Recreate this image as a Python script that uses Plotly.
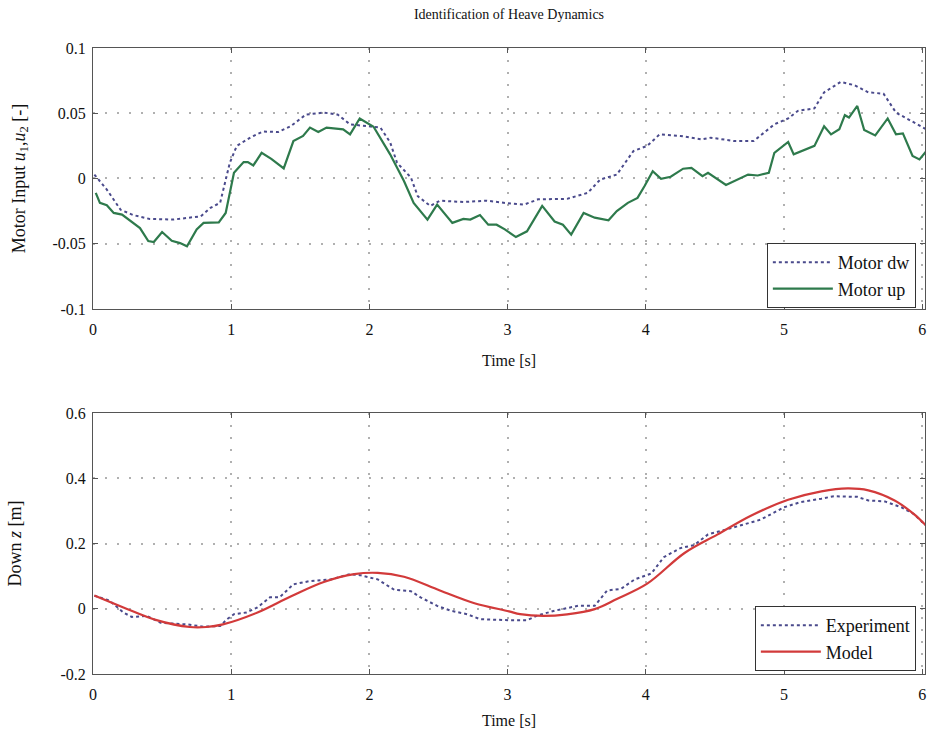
import plotly.graph_objects as go

# ---- data ----
t_dw = [0.01,0.1,0.2,0.29,0.41,0.58,0.78,0.85,0.92,0.99,1.04,1.14,1.23,1.34,1.43,1.54,1.67,1.77,1.86,1.98,2.08,2.15,2.2,2.3,2.35,2.44,2.51,2.68,2.85,3.0,3.12,3.22,3.43,3.58,3.67,3.79,3.91,4.01,4.1,4.25,4.4,4.47,4.64,4.78,4.93,5.03,5.1,5.22,5.29,5.41,5.51,5.61,5.72,5.81,5.92,6.03]
u_dw = [0.003,-0.0085,-0.024,-0.028,-0.031,-0.0315,-0.029,-0.0225,-0.0186,0.012,0.025,0.0315,0.036,0.0356,0.040,0.049,0.0505,0.049,0.0415,0.040,0.039,0.0277,0.012,0.0008,-0.0136,-0.021,-0.017,-0.018,-0.017,-0.019,-0.020,-0.016,-0.0156,-0.011,-0.0008,0.003,0.021,0.025,0.0338,0.0326,0.030,0.0313,0.0287,0.0287,0.0415,0.046,0.0518,0.0538,0.066,0.074,0.0715,0.066,0.065,0.0505,0.044,0.0377]

t_up = [0.02,0.05,0.1,0.15,0.21,0.34,0.40,0.44,0.50,0.57,0.63,0.68,0.75,0.80,0.91,0.96,1.02,1.09,1.12,1.16,1.22,1.29,1.38,1.45,1.52,1.57,1.63,1.69,1.81,1.86,1.93,1.98,2.03,2.15,2.25,2.32,2.42,2.49,2.60,2.68,2.73,2.80,2.86,2.92,2.98,3.06,3.14,3.25,3.34,3.40,3.46,3.55,3.63,3.73,3.79,3.87,3.94,3.99,4.05,4.11,4.18,4.27,4.33,4.41,4.45,4.58,4.66,4.74,4.81,4.89,4.93,5.03,5.07,5.22,5.29,5.34,5.40,5.44,5.47,5.53,5.58,5.66,5.75,5.81,5.86,5.93,5.98,6.03]
u_up = [-0.011,-0.0187,-0.0205,-0.0264,-0.0277,-0.038,-0.048,-0.0487,-0.041,-0.0477,-0.0495,-0.052,-0.039,-0.034,-0.0336,-0.0264,0.0044,0.0126,0.0126,0.010,0.0197,0.015,0.0077,0.0287,0.0326,0.039,0.0356,0.039,0.0377,0.0338,0.046,0.0428,0.0397,0.0185,-0.002,-0.0187,-0.0315,-0.020,-0.034,-0.031,-0.0315,-0.028,-0.0354,-0.0354,-0.039,-0.0449,-0.0405,-0.021,-0.033,-0.0354,-0.043,-0.0264,-0.030,-0.032,-0.025,-0.0187,-0.0149,-0.006,0.0056,-0.0003,0.0013,0.0075,0.0082,0.0018,0.0044,-0.005,-0.0008,0.003,0.0023,0.0044,0.0197,0.028,0.0185,0.025,0.040,0.0338,0.0377,0.0485,0.0467,0.0556,0.0372,0.033,0.046,0.0338,0.0346,0.0172,0.0146,0.021]

t_exp = [0.01,0.12,0.22,0.28,0.39,0.49,0.68,0.80,0.92,0.97,1.02,1.11,1.19,1.28,1.35,1.45,1.57,1.72,1.86,1.93,2.06,2.18,2.30,2.37,2.49,2.59,2.71,2.80,3.01,3.14,3.22,3.34,3.51,3.63,3.72,3.82,3.92,4.04,4.13,4.25,4.35,4.45,4.59,4.69,4.83,5.0,5.12,5.27,5.36,5.53,5.61,5.73,5.85,5.94,6.03]
z_exp = [0.04,0.025,-0.0115,-0.025,-0.022,-0.043,-0.048,-0.055,-0.053,-0.032,-0.0167,-0.0115,0.004,0.035,0.035,0.075,0.085,0.09,0.106,0.103,0.09,0.058,0.054,0.035,0.009,-0.006,-0.017,-0.032,-0.035,-0.035,-0.02,-0.006,0.009,0.009,0.056,0.061,0.09,0.108,0.158,0.186,0.195,0.228,0.244,0.256,0.273,0.311,0.327,0.3375,0.345,0.343,0.332,0.329,0.311,0.29,0.254]

t_mod = [0.01,0.22,0.46,0.70,0.82,0.94,1.19,1.43,1.67,1.89,2.06,2.25,2.51,2.76,3.01,3.09,3.26,3.43,3.63,3.79,4.01,4.28,4.52,4.76,5.03,5.27,5.46,5.61,5.80,5.94,6.03]
z_mod = [0.0406,0.004,-0.035,-0.056,-0.056,-0.048,-0.0115,0.0375,0.082,0.106,0.110,0.098,0.056,0.017,-0.008,-0.0167,-0.022,-0.017,-0.001,0.030,0.077,0.171,0.228,0.285,0.334,0.360,0.369,0.363,0.332,0.29,0.254]

top_yticks = [-0.1, -0.05, 0, 0.05, 0.1]
top_yticktext = ["-0.1", "-0.05", "0", "0.05", "0.1"]
bot_yticks = [-0.2, 0, 0.2, 0.4, 0.6]
bot_yticktext = ["-0.2", "0", "0.2", "0.4", "0.6"]
xticks = [0, 1, 2, 3, 4, 5, 6]

FONT = "Liberation Serif"
BLUE_DOT = "#4a4a8c"
GREEN = "#2e7a4c"
RED = "#d23a3a"

fig = go.Figure()
fig.add_trace(go.Scatter(x=t_dw, y=u_dw, mode="lines", name="Motor dw",
                         line=dict(color=BLUE_DOT, width=2, dash="dot"),
                         xaxis="x", yaxis="y", legend="legend"))
fig.add_trace(go.Scatter(x=t_up, y=u_up, mode="lines", name="Motor up",
                         line=dict(color=GREEN, width=2.2),
                         xaxis="x", yaxis="y", legend="legend"))
fig.add_trace(go.Scatter(x=t_exp, y=z_exp, mode="lines", name="Experiment",
                         line=dict(color=BLUE_DOT, width=2, dash="dot"),
                         xaxis="x2", yaxis="y2", legend="legend2"))
fig.add_trace(go.Scatter(x=t_mod, y=z_mod, mode="lines", name="Model",
                         line=dict(color=RED, width=2.2, shape="spline"),
                         xaxis="x2", yaxis="y2", legend="legend2"))

axis_common = dict(showline=True, linecolor="#555", linewidth=1, mirror="ticks",
                   ticks="inside", ticklen=5, tickcolor="#555",
                   showgrid=True, gridcolor="#b0b0b0", griddash="2px,10px", gridwidth=1.5,
                   zeroline=False, automargin=False, ticklabeloverflow="allow",
                   tickfont=dict(family=FONT, size=16, color="#111"))

fig.update_layout(
    width=932, height=738,
    paper_bgcolor="white", plot_bgcolor="white",
    margin=dict(l=93, r=7, t=48, b=64),
    font=dict(family=FONT, color="#111"),
    title=dict(text="Identification of Heave Dynamics", x=0.5, xref="paper", xanchor="center",
               y=0.981, yref="container", yanchor="middle",
               font=dict(family=FONT, size=14, color="#111")),
    xaxis=dict(domain=[0, 1], anchor="y", range=[0, 6.02], tickvals=xticks,
               ticklabelstandoff=6,
               title=dict(text="Time [s]", font=dict(family=FONT, size=16), standoff=17),
               **axis_common),
    yaxis=dict(domain=[0.5831, 1], anchor="x", range=[-0.1, 0.1], tickvals=top_yticks,
               ticktext=top_yticktext, ticklabelstandoff=3,
               title=dict(text="Motor Input <i>u</i><sub>1</sub>,<i>u</i><sub>2</sub> [-]",
                          font=dict(family=FONT, size=18), standoff=22),
               **axis_common),
    xaxis2=dict(domain=[0, 1], anchor="y2", range=[0, 6.02], tickvals=xticks,
                ticklabelstandoff=6,
                title=dict(text="Time [s]", font=dict(family=FONT, size=16), standoff=12),
                **axis_common),
    yaxis2=dict(domain=[0, 0.4169], anchor="x2", range=[-0.2, 0.6], tickvals=bot_yticks,
                ticktext=bot_yticktext, ticklabelstandoff=3,
                title=dict(text="Down <i>z</i> [m]", font=dict(family=FONT, size=18), standoff=34),
                **axis_common),
    legend=dict(x=0.989, xanchor="right", y=0.6885, yanchor="top",
                bgcolor="white", bordercolor="#333", borderwidth=1,
                font=dict(family=FONT, size=18, color="#111"),
                tracegroupgap=0, itemwidth=60),
    legend2=dict(x=0.989, xanchor="right", y=0.1086, yanchor="top",
                 bgcolor="white", bordercolor="#333", borderwidth=1,
                 font=dict(family=FONT, size=18, color="#111"),
                 tracegroupgap=0, itemwidth=60),
    showlegend=True,
)

fig.write_html("out.html", config={"displayModeBar": False},
               post_script="document.body.style.margin='0';document.body.style.padding='0';")
